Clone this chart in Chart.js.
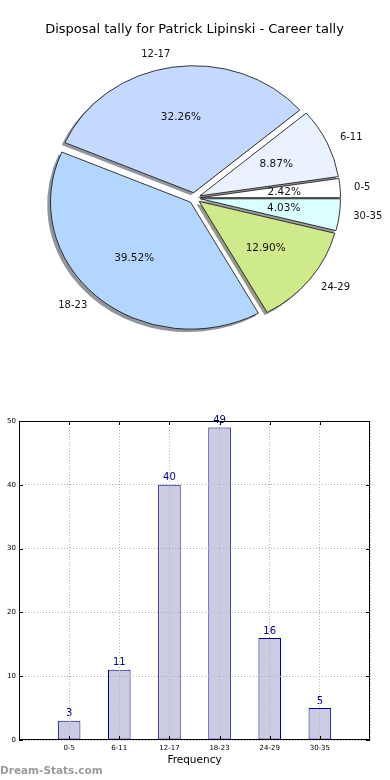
<!DOCTYPE html>
<html>
<head>
<meta charset="utf-8">
<script src="https://cdn.jsdelivr.net/npm/chart.js@4"></script>
<style>
  html, body { margin: 0; padding: 0; background: #fff; }
  #wrap { position: relative; width: 390px; height: 780px; overflow: hidden; }
  #pie { position: absolute; left: 0; top: 0; }
  #bar { position: absolute; left: 0; top: 400px; }
  #wm { position: absolute; left: 0px; top: 764px; font: bold 10.5px "DejaVu Sans", sans-serif; line-height: 12px; color: #9a9a9a; }
</style>
</head>
<body>
<div id="wrap">
  <canvas id="pie" width="390" height="400"></canvas>
  <canvas id="bar" width="390" height="380"></canvas>
  <div id="wm">Dream-Stats.com</div>
</div>
<script>
// ---- data ----
const categories = ['0-5', '6-11', '12-17', '18-23', '24-29', '30-35'];
const counts = [3, 11, 40, 49, 16, 5];
const sliceColors = ['#ffffff', '#ebf2ff', '#c5d9ff', '#b3d6ff', '#cfea8a', '#d9ffff'];
const yTicks = [0, 10, 20, 30, 40, 50];
const titleText = 'Disposal tally for Patrick Lipinski - Career tally';

const FONT = '"DejaVu Sans", sans-serif';
const total = counts.reduce((a, b) => a + b, 0);

// pie drawn clockwise in Chart.js; reference runs counter-clockwise from east
const pieLabels = categories.slice().reverse();
const pieValues = counts.slice().reverse();
const pieColors = sliceColors.slice().reverse();

const K = 127 / 140;     // vertical squash of the pie (ellipse)
const R = 140;
const EXPL = 6;
const SHX = -2.8, SHY = 2.5;

function shadowOf(hex) {
  const n = parseInt(hex.slice(1), 16);
  const r = (n >> 16) & 255, g = (n >> 8) & 255, b = n & 255;
  return 'rgba(' + Math.round(r * 0.3) + ',' + Math.round(g * 0.3) + ',' + Math.round(b * 0.3) + ',0.55)';
}

const pieFx = {
  id: 'pieFx',
  beforeDatasetDraw(chart, args) {
    const ctx = chart.ctx;
    const els = args.meta.data;
    if (!els.length) return false;
    const cx = els[0].x, cy = els[0].y;
    ctx.save();
    ctx.translate(cx, cy); ctx.scale(1, K); ctx.translate(-cx, -cy);
    els.forEach((el, i) => {
      const mid = (el.startAngle + el.endAngle) / 2;
      const ox = el.x + EXPL * Math.cos(mid) + SHX;
      const oy = el.y + EXPL * Math.sin(mid) + SHY / K;
      ctx.beginPath();
      ctx.moveTo(ox, oy);
      ctx.arc(ox, oy, el.outerRadius + 0.5, el.startAngle, el.endAngle);
      ctx.closePath();
      ctx.fillStyle = shadowOf(pieColors[i]);
      ctx.fill();
    });
    els.forEach((el) => {
      const mid = (el.startAngle + el.endAngle) / 2;
      ctx.save();
      ctx.translate(EXPL * Math.cos(mid), EXPL * Math.sin(mid));
      el.draw(ctx);
      ctx.restore();
    });
    ctx.restore();
    return false;
  },
  afterDraw(chart) {
    const ctx = chart.ctx;
    const els = chart.getDatasetMeta(0).data;
    ctx.save();
    ctx.fillStyle = '#111';
    ctx.textBaseline = 'middle';
    els.forEach((el, i) => {
      const mid = (el.startAngle + el.endAngle) / 2;
      const ux = Math.cos(mid), uy = Math.sin(mid);
      const ex = el.x + EXPL * ux, ey = el.y + K * EXPL * uy;
      ctx.font = '10px ' + FONT;
      ctx.textAlign = ux > 0 ? 'left' : 'right';
      ctx.fillText(pieLabels[i], ex + 1.1 * R * ux, ey + K * 1.1 * R * uy);
      ctx.font = '10.5px ' + FONT;
      ctx.textAlign = 'center';
      const pct = (pieValues[i] / total * 100).toFixed(2) + '%';
      ctx.fillText(pct, ex + 0.6 * R * ux, ey + K * 0.6 * R * uy);
    });
    ctx.restore();
  }
};

new Chart(document.getElementById('pie'), {
  type: 'pie',
  data: {
    labels: pieLabels,
    datasets: [{
      data: pieValues,
      backgroundColor: pieColors,
      borderColor: '#1a1a1a',
      borderWidth: 0.9,
      radius: R
    }]
  },
  options: {
    responsive: false,
    animation: false,
    events: [],
    rotation: 90,
    layout: { padding: { left: 0, right: 1, top: 0, bottom: 41.4 } },
    plugins: {
      legend: { display: false },
      tooltip: { enabled: false },
      title: {
        display: true,
        text: titleText,
        color: '#000',
        font: { family: FONT, size: 13, weight: 'normal' },
        padding: { top: 22, bottom: 0 }
      }
    }
  },
  plugins: [pieFx]
});

// ---- bar chart ----
const barFx = {
  id: 'barFx',
  afterDatasetsDraw(chart) {
    const ctx = chart.ctx;
    const meta = chart.getDatasetMeta(0);
    ctx.save();
    ctx.fillStyle = '#00008b';
    ctx.font = '10px ' + FONT;
    ctx.textAlign = 'center';
    ctx.textBaseline = 'bottom';
    meta.data.forEach((el, i) => {
      ctx.fillText(String(counts[i]), el.x, el.y - 2);
    });
    ctx.restore();
  },
  afterDraw(chart) {
    const ctx = chart.ctx;
    const a = chart.chartArea;
    const xs = chart.scales.x, ys = chart.scales.y;
    ctx.save();
    ctx.strokeStyle = '#000';
    ctx.lineWidth = 1;
    ctx.strokeRect(Math.round(a.left) + 0.5, Math.round(a.top) + 0.5,
      Math.round(a.right - a.left) - 1, Math.round(a.bottom - a.top) - 1);
    ctx.beginPath();
    categories.forEach((c, i) => {
      const px = Math.round(xs.getPixelForValue(i)) + 0.5;
      ctx.moveTo(px, a.top); ctx.lineTo(px, a.top + 4);
      ctx.moveTo(px, a.bottom); ctx.lineTo(px, a.bottom - 4);
    });
    yTicks.forEach((v) => {
      const py = Math.round(ys.getPixelForValue(v)) + 0.5;
      ctx.moveTo(a.left, py); ctx.lineTo(a.left + 4, py);
      ctx.moveTo(a.right, py); ctx.lineTo(a.right - 4, py);
    });
    ctx.stroke();
    ctx.restore();
  }
};

new Chart(document.getElementById('bar'), {
  type: 'bar',
  data: {
    datasets: [{
      data: counts.map((v, i) => ({ x: i, y: v })),
      backgroundColor: '#cbcbe3',
      borderColor: '#00008b',
      borderWidth: 1,
      borderSkipped: false,
      barPercentage: 0.45,
      categoryPercentage: 1
    }]
  },
  options: {
    responsive: false,
    animation: false,
    events: [],
    layout: { padding: { left: 0, right: 20, top: 21, bottom: 0 } },
    plugins: { legend: { display: false }, tooltip: { enabled: false } },
    scales: {
      x: {
        type: 'linear',
        offset: false,
        min: -1,
        max: 6,
        ticks: {
          stepSize: 1,
          autoSkip: false,
          maxRotation: 0,
          padding: 4,
          color: '#000',
          font: { family: FONT, size: 7 },
          callback: (v) => (categories[v] !== undefined ? categories[v] : '')
        },
        grid: { color: '#b4b4b4', drawTicks: false, z: 1, lineWidth: 1, offset: false },
        border: { display: false, dash: [1, 2] },
        title: {
          display: true,
          text: 'Frequency',
          color: '#000',
          font: { family: FONT, size: 10.5 },
          padding: { top: 13, bottom: 13 }
        },
        afterFit(s) { s.height = 40; }
      },
      y: {
        min: 0,
        max: 50,
        ticks: {
          stepSize: 10,
          padding: 3,
          color: '#000',
          font: { family: FONT, size: 7 }
        },
        grid: { color: '#b4b4b4', drawTicks: false, z: 1, lineWidth: 1 },
        border: { display: false, dash: [1, 2] },
        afterFit(s) { s.width = 19; }
      }
    }
  },
  plugins: [barFx]
});
</script>
</body>
</html>
